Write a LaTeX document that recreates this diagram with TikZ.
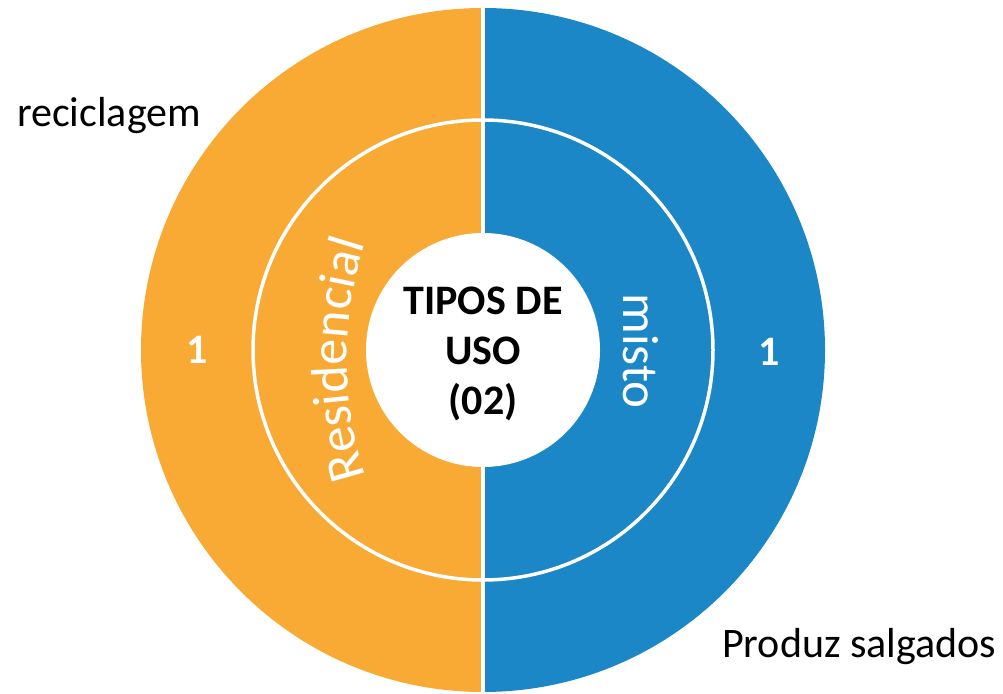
\documentclass[tikz,border=0pt]{standalone}
\usepackage{fontspec}
\setmainfont{Carlito}
\usetikzlibrary{decorations.text}
\definecolor{orangeC}{HTML}{F8AA35}
\definecolor{blueC}{HTML}{1B87C7}
\begin{document}
\begin{tikzpicture}[x=1pt,y=1pt,
  lbl/.style={font=\fontsize{42}{50}\selectfont, inner sep=0pt},
  num/.style={font=\fontsize{42}{50}\selectfont\bfseries, text=white},
  sep/.style={white, line width=3.5pt}]
\useasboundingbox (0,0) rectangle (1003,693);
\coordinate (c) at (483,343);
\coordinate (top) at (483,685);
\coordinate (bot) at (483,1);
\fill[orangeC] (top) arc[start angle=90,end angle=270,radius=342] -- cycle;
\fill[blueC] (bot) arc[start angle=-90,end angle=90,radius=342] -- cycle;
\draw[sep] (c) circle[radius=230];
\draw[sep] (top) -- (bot);
\fill[white] (c) circle[radius=117];
\path[decorate, decoration={text along path, text align=center, text color=white,
  text={|\fontsize{52}{52}\selectfont|Residencial}}]
  (727,333) ++(200:380) arc[start angle=200, end angle=160, radius=380];
\node[rotate=-90, anchor=base, text=white, font=\fontsize{51}{51}\selectfont] (misto) at (623,342) {misto};
\node[font=\fontsize{42}{50}\selectfont\bfseries, align=center] (title) at (483,339) {TIPOS DE\\USO\\(02)};
\node[num] (n1) at (197,343) {1};
\node[num] (n2) at (769,341) {1};
\node[lbl, anchor=base west] (rec) at (17,566) {reciclagem};
\node[lbl, anchor=base west] (prod) at (722,36) {Produz salgados};
\end{tikzpicture}
\end{document}
